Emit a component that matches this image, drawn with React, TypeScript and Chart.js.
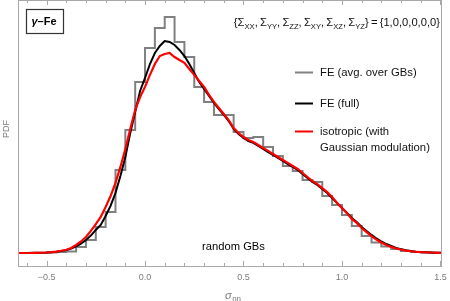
import React, { useEffect, useRef } from 'react';
import { Chart, registerables } from 'chart.js';

Chart.register(...registerables);

// Histogram "FE (avg. over GBs)": value held from each bin start to the next
const histBinStart = [-0.65, -0.5, -0.45, -0.4, -0.35, -0.3, -0.25, -0.2, -0.15, -0.1, -0.05, 0, 0.05, 0.1, 0.15, 0.2, 0.25, 0.3, 0.35, 0.4, 0.45, 0.5, 0.55, 0.6, 0.65, 0.7, 0.75, 0.8, 0.85, 0.9, 0.95, 1.0, 1.05, 1.1, 1.15, 1.2, 1.25, 1.3, 1.35, 1.4, 1.45, 1.55];
const histPdf = [0, 0.003, 0.006, 0.009, 0.038, 0.081, 0.163, 0.256, 0.519, 0.769, 1.069, 1.281, 1.406, 1.475, 1.319, 1.225, 1.038, 0.944, 0.863, 0.863, 0.756, 0.719, 0.725, 0.663, 0.606, 0.544, 0.513, 0.456, 0.444, 0.356, 0.3, 0.238, 0.169, 0.106, 0.066, 0.041, 0.025, 0.013, 0.006, 0.003, 0, 0];

const curveX = [-0.65, -0.6, -0.55, -0.5, -0.475, -0.45, -0.425, -0.4, -0.375, -0.35, -0.325, -0.3, -0.275, -0.25, -0.225, -0.2, -0.175, -0.15, -0.125, -0.1, -0.075, -0.05, -0.025, 0, 0.025, 0.05, 0.075, 0.1, 0.125, 0.15, 0.175, 0.2, 0.225, 0.25, 0.275, 0.3, 0.325, 0.35, 0.375, 0.4, 0.425, 0.45, 0.475, 0.5, 0.525, 0.55, 0.575, 0.6, 0.625, 0.65, 0.675, 0.7, 0.725, 0.75, 0.775, 0.8, 0.825, 0.85, 0.875, 0.9, 0.925, 0.95, 0.975, 1, 1.025, 1.05, 1.075, 1.1, 1.125, 1.15, 1.175, 1.2, 1.225, 1.25, 1.275, 1.3, 1.325, 1.35, 1.375, 1.4, 1.45, 1.5, 1.55];
const pdfFull = [0, 0, 0.001, 0.003, 0.005, 0.008, 0.012, 0.018, 0.027, 0.041, 0.059, 0.081, 0.109, 0.144, 0.175, 0.231, 0.294, 0.375, 0.481, 0.6, 0.75, 0.881, 1.013, 1.094, 1.181, 1.25, 1.294, 1.325, 1.319, 1.3, 1.269, 1.231, 1.181, 1.125, 1.069, 1.025, 0.981, 0.938, 0.9, 0.863, 0.825, 0.775, 0.744, 0.719, 0.7, 0.688, 0.669, 0.65, 0.631, 0.613, 0.594, 0.575, 0.556, 0.538, 0.519, 0.494, 0.469, 0.444, 0.425, 0.4, 0.375, 0.344, 0.313, 0.281, 0.25, 0.219, 0.194, 0.163, 0.138, 0.113, 0.091, 0.072, 0.056, 0.044, 0.031, 0.024, 0.017, 0.012, 0.008, 0.006, 0.003, 0.001, 0.001];
const pdfIsotropic = [0, 0, 0.001, 0.003, 0.005, 0.009, 0.014, 0.02, 0.031, 0.05, 0.072, 0.1, 0.138, 0.181, 0.225, 0.288, 0.356, 0.438, 0.538, 0.65, 0.775, 0.894, 0.975, 1.038, 1.113, 1.181, 1.231, 1.244, 1.25, 1.225, 1.206, 1.188, 1.15, 1.113, 1.075, 1.038, 0.988, 0.944, 0.906, 0.869, 0.831, 0.781, 0.75, 0.725, 0.706, 0.694, 0.675, 0.656, 0.638, 0.619, 0.6, 0.581, 0.563, 0.544, 0.525, 0.5, 0.475, 0.45, 0.431, 0.406, 0.381, 0.35, 0.313, 0.281, 0.25, 0.213, 0.188, 0.156, 0.131, 0.106, 0.084, 0.066, 0.05, 0.038, 0.028, 0.021, 0.015, 0.011, 0.008, 0.005, 0.003, 0.001, 0.001];

const xMajorTicks = [-0.5, 0, 0.5, 1.0, 1.5];
const xTickLabels = ['\u22120.5', '0.0', '0.5', '1.0', '1.5'];
const xMinorTicks = [-0.6, -0.4, -0.3, -0.2, -0.1, 0.1, 0.2, 0.3, 0.4, 0.6, 0.7, 0.8, 0.9, 1.1, 1.2, 1.3, 1.4];

const legendLabels = [['FE (avg. over GBs)'], ['FE (full)'], ['isotropic (with', 'Gaussian modulation)']];
const legendColors = ['#808080', '#000000', '#ff0000'];

const sigmaComponents = ['XX', 'YY', 'ZZ', 'XY', 'XZ', 'YZ'];
const sigmaValues = [1, 0, 0, 0, 0, 0];

const FONT = '"Liberation Sans", Arial, sans-serif';

const decor = {
  id: 'decor',
  afterDraw(chart: any) {
    const { ctx, chartArea: a, scales } = chart;
    const xs = scales.x;
    ctx.save();

    // frame
    ctx.strokeStyle = '#a8a8a8';
    ctx.lineWidth = 1;
    ctx.strokeRect(a.left + 0.5, a.top + 0.5, a.right - a.left - 1, a.bottom - a.top - 1);

    // ticks (inward, bottom and top)
    const tick = (v: number, len: number) => {
      const px = Math.round(xs.getPixelForValue(v)) + 0.5;
      ctx.beginPath();
      ctx.moveTo(px, a.bottom - 1);
      ctx.lineTo(px, a.bottom - 1 - len);
      ctx.moveTo(px, a.top);
      ctx.lineTo(px, a.top + len);
      ctx.stroke();
    };
    xMajorTicks.forEach((v) => tick(v, 5));
    xMinorTicks.forEach((v) => tick(v, 3));

    // tick labels
    ctx.fillStyle = '#7a7a7a';
    ctx.font = `9px ${FONT}`;
    ctx.textAlign = 'center';
    ctx.textBaseline = 'middle';
    xMajorTicks.forEach((v, i) => {
      ctx.fillText(xTickLabels[i], xs.getPixelForValue(v), 277.5);
    });

    // x-axis title sigma_nn
    ctx.textBaseline = 'alphabetic';
    ctx.textAlign = 'left';
    ctx.font = `italic 11px ${FONT}`;
    ctx.fillText('\u03c3', 225, 298.5);
    const sw = ctx.measureText('\u03c3').width;
    ctx.font = `8px ${FONT}`;
    ctx.fillText('nn', 225 + sw + 0.5, 301);

    // y-axis title
    ctx.save();
    ctx.translate(7, 129);
    ctx.rotate(-Math.PI / 2);
    ctx.textAlign = 'center';
    ctx.textBaseline = 'middle';
    ctx.font = `9px ${FONT}`;
    ctx.fillText('PDF', 0, 0);
    ctx.restore();

    // gamma-Fe box
    ctx.strokeStyle = '#333';
    ctx.lineWidth = 1.2;
    ctx.strokeRect(26.5, 9.5, 37, 24);
    ctx.fillStyle = '#000';
    ctx.textAlign = 'left';
    ctx.textBaseline = 'middle';
    ctx.font = `italic bold 11px ${FONT}`;
    ctx.fillText('\u03b3', 31.5, 22);
    const gw = ctx.measureText('\u03b3').width;
    ctx.font = `bold 11px ${FONT}`;
    ctx.fillText('\u2013Fe', 31.5 + gw, 22);

    // stress tensor text, right-aligned at the frame
    const pieces: { t: string; sub: boolean }[] = [{ t: '{', sub: false }];
    sigmaComponents.forEach((c, i) => {
      pieces.push({ t: '\u03a3', sub: false });
      pieces.push({ t: c, sub: true });
      if (i < sigmaComponents.length - 1) pieces.push({ t: ',\u2009', sub: false });
    });
    pieces.push({ t: '}\u2009=\u2009{' + sigmaValues.join(',') + '}', sub: false });
    const base = 11.2, subS = 7.6;
    let total = 0;
    pieces.forEach((p) => {
      ctx.font = `${p.sub ? subS : base}px ${FONT}`;
      total += ctx.measureText(p.t).width;
    });
    let cx = 440 - total;
    ctx.textBaseline = 'alphabetic';
    ctx.fillStyle = '#111';
    pieces.forEach((p) => {
      ctx.font = `${p.sub ? subS : base}px ${FONT}`;
      ctx.fillText(p.t, cx, p.sub ? 28.5 : 26);
      cx += ctx.measureText(p.t).width;
    });

    // legend
    const ly = [72.5, 103.5, 131.5];
    ctx.font = `11.3px ${FONT}`;
    ctx.textBaseline = 'middle';
    legendLabels.forEach((lines, i) => {
      ctx.strokeStyle = legendColors[i];
      ctx.lineWidth = 2;
      ctx.beginPath();
      ctx.moveTo(295, ly[i]);
      ctx.lineTo(313, ly[i]);
      ctx.stroke();
      ctx.fillStyle = '#111';
      lines.forEach((ln, j) => ctx.fillText(ln, 320, ly[i] + j * 16));
    });

    // annotation
    ctx.textAlign = 'center';
    ctx.fillStyle = '#000';
    ctx.font = `11.2px ${FONT}`;
    ctx.fillText('random GBs', 233.5, 246.5);

    ctx.restore();
  },
};

export default function App() {
  const ref = useRef<HTMLCanvasElement>(null);
  useEffect(() => {
    const canvas = ref.current;
    if (!canvas) return;
    const chart = new Chart(canvas, {
      type: 'line',
      data: {
        datasets: [
          {
            label: 'isotropic (with Gaussian modulation)',
            data: curveX.map((x, i) => ({ x, y: pdfIsotropic[i] })),
            borderColor: '#ff0000',
            borderWidth: 2.2,
            pointRadius: 0,
            tension: 0,
          },
          {
            label: 'FE (full)',
            data: curveX.map((x, i) => ({ x, y: pdfFull[i] })),
            borderColor: '#000000',
            borderWidth: 2,
            pointRadius: 0,
            tension: 0,
          },
          {
            label: 'FE (avg. over GBs)',
            data: histBinStart.map((x, i) => ({ x, y: histPdf[i] })),
            borderColor: '#808080',
            borderWidth: 2,
            pointRadius: 0,
            stepped: 'before',
          },
        ],
      } as any,
      options: {
        responsive: false,
        animation: false,
        devicePixelRatio: 1,
        layout: { padding: { left: 18, right: 8, top: 0, bottom: 34 } },
        scales: {
          x: { type: 'linear', min: -0.645, max: 1.508, display: false },
          y: { type: 'linear', min: -0.0875, max: 1.58125, display: false },
        },
        plugins: { legend: { display: false }, tooltip: { enabled: false } },
      },
      plugins: [decor],
    });
    return () => chart.destroy();
  }, []);
  return (
    <div style={{ position: 'fixed', left: 0, top: 0, width: 450, height: 301, background: '#fff' }}>
      <canvas ref={ref} width={450} height={301} style={{ display: 'block', width: 450, height: 301 }} />
    </div>
  );
}
